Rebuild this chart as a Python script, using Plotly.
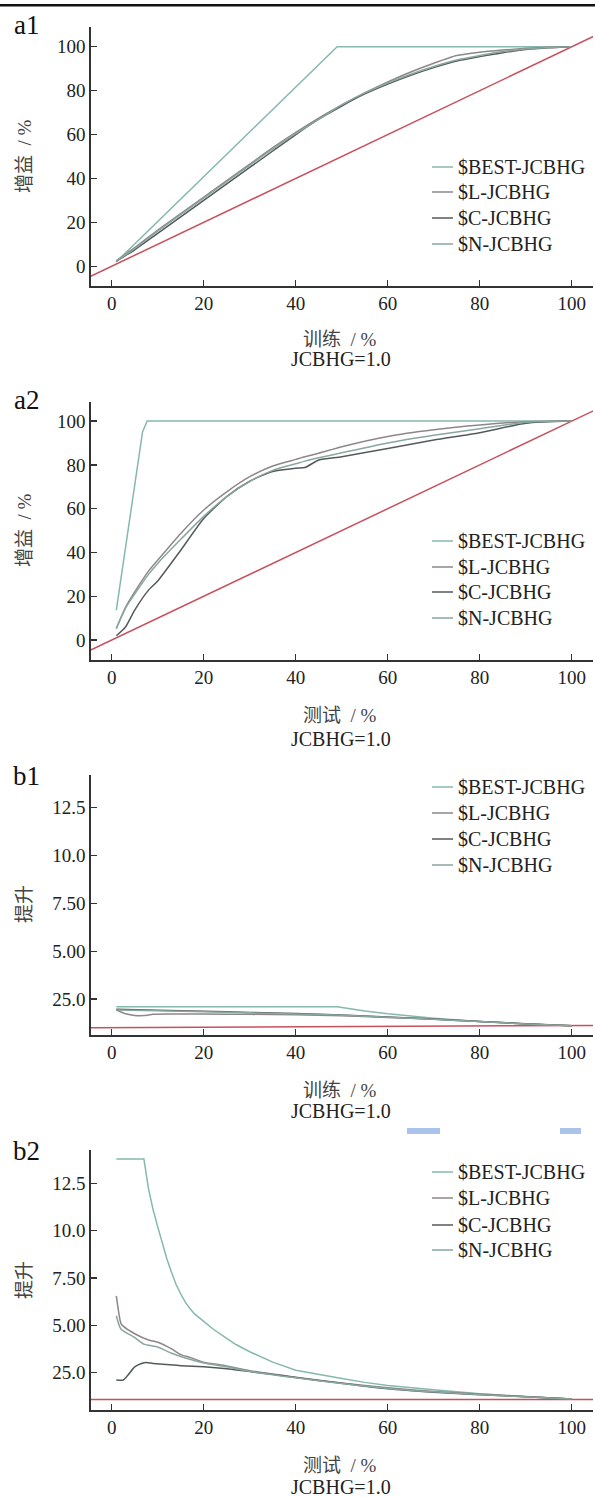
import plotly.graph_objects as go

W, H = 595, 1497
SERIF = "'Liberation Serif', 'Times New Roman', 'Noto Sans CJK SC', serif"
CJK = "'Liberation Serif', 'Noto Sans CJK SC', sans-serif"

names = ["$BEST-JCBHG", "$L-JCBHG", "$C-JCBHG", "$N-JCBHG"]
colors = ["#86b8ad", "#8e8787", "#545a5a", "#8aa6a0"]
red = "#c8505e"

# ---------- a1 : gains, training ----------
a1_best_x = [1, 49, 100]
a1_best_y = [2.0, 100, 100]
a1_x = [1, 5, 10, 15, 20, 25, 30, 35, 40, 45, 50, 55, 60, 65, 70, 75, 80, 85, 90, 95, 100]
a1_L = [2.5, 8.5, 16.5, 24, 31.5, 39, 46.5, 54, 61, 67.5, 73.5, 79, 84, 88.5, 92.5, 96, 97.5, 98.5, 99.3, 99.8, 100]
a1_C = [2.3, 7.5, 15, 22.5, 30, 37.5, 45, 52.5, 60, 67, 73, 78.5, 83, 87, 90.5, 93.5, 95.5, 97.3, 98.7, 99.5, 100]
a1_N = [2.4, 8, 16, 23.5, 31, 38.5, 46, 53.5, 60.5, 67, 73.5, 79, 83.5, 87.5, 91, 94, 96, 97.8, 99, 99.7, 100]
a1_base_x = [-5, 105]
a1_base_y = [-5, 105]

# ---------- a2 : gains, test ----------
a2_best_x = [1, 6.7, 7.7, 100]
a2_best_y = [13.7, 95, 100, 100]
a2_x = [1, 3, 5, 8, 10, 15, 20, 25, 30, 35, 40, 42, 45, 50, 60, 70, 80, 90, 100]
a2_L = [5.3, 15, 22, 31.5, 36.5, 48.7, 59.4, 67.7, 74.6, 79.5, 82.5, 83.7, 85.3, 88.3, 93, 96, 98.2, 99.7, 100]
a2_N = [5.3, 14.5, 21, 30, 35, 46, 56.5, 65.5, 72.5, 77.5, 80.5, 81.7, 83.2, 85.5, 90, 93.5, 96.5, 99.5, 100]
a2_C = [2.0, 6, 13.7, 22.8, 27, 41, 55.5, 65.5, 72.5, 77, 78.5, 78.8, 82.2, 83.7, 87.5, 91.3, 94.7, 99, 100]
a2_base_x = [-5, 105]
a2_base_y = [-5, 105]

# ---------- b1 : lift, training ----------
b1_best_x = [1, 49, 55, 60, 70, 80, 90, 100]
b1_best_y = [2.1, 2.1, 1.88, 1.73, 1.5, 1.32, 1.2, 1.1]
b1_x = [1, 10, 20, 30, 40, 50, 60, 70, 80, 90, 100]
b1_C = [1.97, 1.92, 1.86, 1.8, 1.74, 1.66, 1.56, 1.45, 1.33, 1.21, 1.1]
b1_N = [1.93, 1.89, 1.84, 1.78, 1.72, 1.65, 1.55, 1.44, 1.32, 1.2, 1.1]
b1_L_x = [1, 2, 3, 5, 7, 9, 12, 20, 30, 40, 50, 60, 70, 80, 90, 100]
b1_L = [1.92, 1.82, 1.73, 1.64, 1.64, 1.7, 1.72, 1.72, 1.7, 1.68, 1.63, 1.54, 1.44, 1.32, 1.2, 1.1]
b1_base_x = [-5, 105]
b1_base_y = [1.0, 1.12]

# ---------- b2 : lift, test ----------
b2_best_x = [1, 7, 8, 9, 10, 11, 12, 13, 14, 15, 16, 17, 18, 20, 22, 25, 27, 30, 35, 40, 45, 50, 55, 60, 70, 80, 90, 100]
b2_best_y = [13.78, 13.78, 12.2, 11.1, 10.2, 9.3, 8.5, 7.8, 7.15, 6.65, 6.22, 5.88, 5.6, 5.2, 4.8, 4.3, 3.98, 3.6, 3.05, 2.62, 2.38, 2.18, 1.98, 1.82, 1.59, 1.38, 1.22, 1.1]
b2_L_x = [1, 2, 2.5, 5, 8, 10, 13, 15, 17, 20, 25, 30, 40, 50, 60, 70, 80, 90, 100]
b2_L = [6.55, 5.1, 4.95, 4.55, 4.22, 4.1, 3.75, 3.45, 3.3, 3.05, 2.85, 2.6, 2.25, 1.95, 1.7, 1.5, 1.36, 1.23, 1.1]
b2_N_x = [1, 2, 5, 7, 10, 13, 15, 17, 20, 25, 30, 40, 50, 60, 70, 80, 90, 100]
b2_N = [5.5, 4.8, 4.35, 4.0, 3.85, 3.52, 3.35, 3.2, 3.0, 2.8, 2.57, 2.22, 1.92, 1.66, 1.48, 1.34, 1.22, 1.1]
b2_C_x = [1, 2.5, 3.5, 5, 6.5, 7.5, 9, 12, 15, 20, 25, 30, 40, 50, 60, 70, 80, 90, 100]
b2_C = [2.1, 2.1, 2.35, 2.8, 2.98, 3.03, 2.98, 2.92, 2.86, 2.8, 2.7, 2.55, 2.24, 1.93, 1.64, 1.46, 1.33, 1.22, 1.1]
b2_base_x = [-5, 105]
b2_base_y = [1.08, 1.08]

x_ticks = [0, 20, 40, 60, 80, 100]
gain_ticks = [0, 20, 40, 60, 80, 100]
lift_tickvals = [2.5, 5, 7.5, 10, 12.5]
lift_ticktext = ["25.0", "5.00", "7.50", "10.0", "12.5"]

panel_labels = ["a1", "a2", "b1", "b2"]
y_titles = ["增益\u2002/ %", "增益\u2002/ %", "提升", "提升"]
x_titles = ["训练\u2002/ %", "测试\u2002/ %", "训练\u2002/ %", "测试\u2002/ %"]
sub_title = "JCBHG=1.0"


def px(x):
    return x / W


def py(y):
    return 1 - y / H


panels = [
    dict(series=[(a1_best_x, a1_best_y), (a1_x, a1_L), (a1_x, a1_C), (a1_x, a1_N)],
         base=(a1_base_x, a1_base_y), top=27, bottom=286, yrange=[-9.0, 109.0],
         legend_rows=[167, 192, 218, 244], label_y=25, ytitle_y=156, xt_y=340, sub_y=359),
    dict(series=[(a2_best_x, a2_best_y), (a2_x, a2_L), (a2_x, a2_C), (a2_x, a2_N)],
         base=(a2_base_x, a2_base_y), top=402, bottom=660, yrange=[-9.1, 108.7],
         legend_rows=[541, 567, 592, 618], label_y=400, ytitle_y=530, xt_y=715, sub_y=739),
    dict(series=[(b1_best_x, b1_best_y), (b1_L_x, b1_L), (b1_x, b1_C), (b1_x, b1_N)],
         base=(b1_base_x, b1_base_y), top=775, bottom=1035, yrange=[0.62, 14.21],
         legend_rows=[787, 813, 839, 865], label_y=776, ytitle_y=904, xt_y=1090, sub_y=1111),
    dict(series=[(b2_best_x, b2_best_y), (b2_L_x, b2_L), (b2_C_x, b2_C), (b2_N_x, b2_N)],
         base=(b2_base_x, b2_base_y), top=1150, bottom=1410, yrange=[0.52, 14.26],
         legend_rows=[1172, 1198, 1225, 1250], label_y=1151, ytitle_y=1280, xt_y=1465, sub_y=1487),
]

fig = go.Figure()
annotations = []
shapes = []
layout_extra = {}
X0, X1 = 91, 593

for i, p in enumerate(panels):
    k = "" if i == 0 else str(i + 1)
    xa, ya = "x" + k, "y" + k
    fig.add_trace(go.Scatter(x=p["base"][0], y=p["base"][1], mode="lines",
                             line=dict(color=red, width=1.5), showlegend=False,
                             xaxis=xa, yaxis=ya, hoverinfo="skip"))
    for j, ((sx, sy), nm, c) in enumerate(zip(p["series"], names, colors)):
        ln = dict(color=c, width=1.5)
        if j > 0:
            ln.update(shape="spline", smoothing=0.6)
        fig.add_trace(go.Scatter(x=sx, y=sy, mode="lines", name=nm, line=ln,
                                 showlegend=False, xaxis=xa, yaxis=ya))
    lift = i >= 2
    layout_extra["xaxis" + k] = dict(
        domain=[px(X0), px(X1)], anchor=ya, range=[-4.5, 104.6],
        tickvals=x_ticks, ticks="inside", ticklen=6, tickwidth=1.3, tickcolor="#333",
        showline=True, linecolor="#333", linewidth=1.6, showgrid=False, zeroline=False,
        tickfont=dict(family=SERIF, size=19, color="#222"), fixedrange=True)
    yax = dict(
        domain=[py(p["bottom"]), py(p["top"])], anchor=xa, range=p["yrange"],
        ticks="inside", ticklen=6, tickwidth=1.3, tickcolor="#333",
        showline=True, linecolor="#333", linewidth=1.6, showgrid=False, zeroline=False,
        tickfont=dict(family=SERIF, size=19, color="#222"), fixedrange=True)
    if lift:
        yax.update(tickvals=lift_tickvals, ticktext=lift_ticktext)
    else:
        yax.update(tickvals=gain_ticks)
    layout_extra["yaxis" + k] = yax

    # legend (key line + label) for this panel
    for row_y, nm, c in zip(p["legend_rows"], names, colors):
        shapes.append(dict(type="line", xref="paper", yref="paper",
                           x0=px(432), x1=px(453), y0=py(row_y), y1=py(row_y),
                           line=dict(color=c, width=1.5)))
        annotations.append(dict(text=nm, x=px(456), y=py(row_y), xref="paper", yref="paper",
                                showarrow=False, xanchor="left", yanchor="middle",
                                font=dict(family=SERIF, size=20, color="#222")))

    annotations += [
        dict(text=panel_labels[i], x=px(26), y=py(p["label_y"]), xref="paper", yref="paper",
             showarrow=False, xanchor="center", yanchor="middle",
             font=dict(family=SERIF, size=27, color="#111")),
        dict(text=y_titles[i], x=px(24), y=py(p["ytitle_y"]), xref="paper", yref="paper",
             showarrow=False, textangle=-90, xanchor="center", yanchor="middle",
             font=dict(family=CJK, size=19, color="#444")),
        dict(text=x_titles[i], x=px(340), y=py(p["xt_y"]), xref="paper", yref="paper",
             showarrow=False, xanchor="center", yanchor="middle",
             font=dict(family=CJK, size=19, color="#444")),
        dict(text=sub_title, x=px(341), y=py(p["sub_y"]), xref="paper", yref="paper",
             showarrow=False, xanchor="center", yanchor="middle",
             font=dict(family=SERIF, size=20, color="#222")),
    ]

shapes += [
    dict(type="line", xref="paper", yref="paper", x0=0, x1=1, y0=py(5.3), y1=py(5.3),
         line=dict(color="#111", width=2.6)),
    dict(type="rect", xref="paper", yref="paper", x0=px(407), x1=px(440), y0=py(1134), y1=py(1128),
         line=dict(width=0), fillcolor="#a9c3ea"),
    dict(type="rect", xref="paper", yref="paper", x0=px(560), x1=px(581), y0=py(1134), y1=py(1128),
         line=dict(width=0), fillcolor="#a9c3ea"),
]

fig.update_layout(width=W, height=H, margin=dict(l=0, r=0, t=0, b=0),
                  paper_bgcolor="white", plot_bgcolor="white", showlegend=False,
                  annotations=annotations, shapes=shapes, **layout_extra)

fig.write_html("out.html", config={"displayModeBar": False, "staticPlot": True},
               post_script="document.body.style.margin='0px';document.body.style.overflow='hidden';")
